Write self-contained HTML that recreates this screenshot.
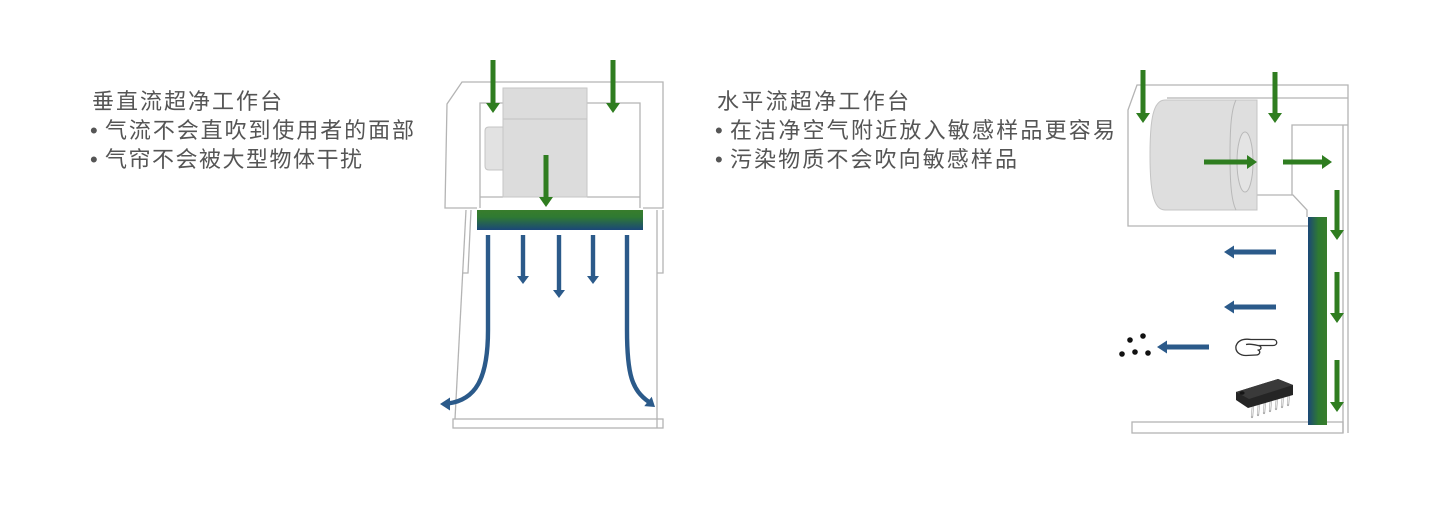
<!DOCTYPE html>
<html>
<head>
<meta charset="utf-8">
<style>
  html,body{margin:0;padding:0;background:#ffffff;}
  body{width:1440px;height:510px;overflow:hidden;}
  svg{display:block;}
  .t{font-family:"Liberation Sans","Noto Sans CJK SC",sans-serif;font-size:22px;fill:#555555;}
</style>
</head>
<body>
<svg width="1440" height="510" viewBox="0 0 1440 510" xmlns="http://www.w3.org/2000/svg">
  <defs>
    <linearGradient id="gv" x1="0" y1="0" x2="0" y2="1">
      <stop offset="0" stop-color="#387d2c"/>
      <stop offset="0.35" stop-color="#2f7a32"/>
      <stop offset="1" stop-color="#1b4778"/>
    </linearGradient>
    <linearGradient id="gh" x1="0" y1="0" x2="1" y2="0">
      <stop offset="0" stop-color="#1b4778"/>
      <stop offset="0.55" stop-color="#2f7a32"/>
      <stop offset="1" stop-color="#387d2c"/>
    </linearGradient>
  </defs>

  <!-- Left text -->
  <text class="t" x="92" y="109" textLength="190" lengthAdjust="spacing">垂直流超净工作台</text>
  <text class="t" x="90" y="138">•</text>
  <text class="t" x="105" y="138" textLength="309" lengthAdjust="spacing">气流不会直吹到使用者的面部</text>
  <text class="t" x="90" y="167">•</text>
  <text class="t" x="105" y="167" textLength="257" lengthAdjust="spacing">气帘不会被大型物体干扰</text>

  <!-- Right text -->
  <text class="t" x="717" y="109" textLength="192" lengthAdjust="spacing">水平流超净工作台</text>
  <text class="t" x="715" y="138">•</text>
  <text class="t" x="730" y="138" textLength="385" lengthAdjust="spacing">在洁净空气附近放入敏感样品更容易</text>
  <text class="t" x="715" y="167">•</text>
  <text class="t" x="730" y="167" textLength="287" lengthAdjust="spacing">污染物质不会吹向敏感样品</text>

  <!-- ===== LEFT DIAGRAM ===== -->
  <g fill="none" stroke="#b4b4b4" stroke-width="1.3">
    <path d="M477,208 L445,208 L447,104 L462,82 L663,82 L663,208 L643,208"/>
    <path d="M503,103 L480,103 L480,208"/>
    <path d="M587,103 L640,103 L640,208"/>
    <path d="M480,197 L503,197"/>
    <path d="M587,197 L640,197"/>
    <path d="M466,210 L455,419"/>
    <path d="M471,210 L468,273 L463,273"/>
    <path d="M657,210 L657,419"/>
    <path d="M663,210 L663,273 L657,273"/>
    <rect x="453" y="419" width="210" height="9"/>
    <path d="M657,419 L657,428"/>
  </g>
  <path d="M503,127 L489,127 Q485,127 485,131 L485,166 Q485,170 489,170 L503,170 Z" fill="#e2e2e2" stroke="#c4c4c4" stroke-width="1"/>
  <rect x="503" y="88" width="84" height="109" fill="#dcdcdc" stroke="#c6c6c6" stroke-width="1"/>
  <line x1="503" y1="119" x2="587" y2="119" stroke="#c2c2c2" stroke-width="1"/>
  <rect x="477" y="210" width="166" height="20" fill="url(#gv)"/>
  <g fill="#2f7d20">
    <polygon points="490.5,60 495.5,60 495.5,103 500,103 493,113 486,103 490.5,103"/>
    <polygon points="610.5,60 615.5,60 615.5,103 620,103 613,113 606,103 610.5,103"/>
    <polygon points="543.5,155 548.5,155 548.5,197 553,197 546,207 539,197 543.5,197"/>
  </g>
  <g fill="#2b5a8a">
    <polygon points="520.8,235 525.2,235 525.2,276 529,276 523,284 517,276 520.8,276"/>
    <polygon points="556.8,235 561.2,235 561.2,290 565,290 559,298 553,290 556.8,290"/>
    <polygon points="590.8,235 595.2,235 595.2,276 599,276 593,284 587,276 590.8,276"/>
    <polygon points="440,404 450,397.5 450,410.5"/>
    <polygon points="655,407 644.3,406.1 651.7,396.7"/>
  </g>
  <g fill="none" stroke="#2b5a8a" stroke-width="4.4">
    <path d="M488,235 L488,330 C488,380 475,400 448,403.5"/>
    <path d="M627,235 L627,330 C627,375 632,390 649,402"/>
  </g>

  <!-- ===== RIGHT DIAGRAM ===== -->
  <g fill="none" stroke="#b4b4b4" stroke-width="1.3">
    <path d="M1308,226 L1128,226 L1128,110 L1137,85 L1348,85 L1348,433"/>
    <path d="M1167,98 L1348,98"/>
    <path d="M1257,195 L1293,195 L1307,210 L1307,217"/>
    <path d="M1292,195 L1292,125 L1348,125"/>
    <path d="M1343,125 L1343,433"/>
    <rect x="1132" y="422" width="211" height="11"/>
  </g>
  <!-- cylinder -->
  <path d="M1165,100 L1257,100 L1257,210 L1165,210 C1153,210 1150,190 1150,155 C1150,120 1153,100 1165,100 Z" fill="#dedede" stroke="#c4c4c4" stroke-width="1"/>
  <path d="M1236,100 C1231,110 1230,130 1230,155 C1230,180 1231,200 1236,210" fill="none" stroke="#b8b8b8" stroke-width="1"/>
  <ellipse cx="1245" cy="162" rx="8" ry="30" fill="#e4e4e4" stroke="#b8b8b8" stroke-width="1"/>
  <rect x="1308" y="217" width="19" height="208" fill="url(#gh)"/>
  <g fill="#2f7d20">
    <polygon points="1140.5,70 1145.5,70 1145.5,113 1150,113 1143,123 1136,113 1140.5,113"/>
    <polygon points="1272.5,72 1277.5,72 1277.5,113 1282,113 1275,123 1268,113 1272.5,113"/>
    <polygon points="1204,159.5 1247,159.5 1247,155 1257,162 1247,169 1247,164.5 1204,164.5"/>
    <polygon points="1283,159.5 1322,159.5 1322,155 1332,162 1322,169 1322,164.5 1283,164.5"/>
    <polygon points="1334.5,190 1339.5,190 1339.5,230 1344,230 1337,240 1330,230 1334.5,230"/>
    <polygon points="1334.5,272 1339.5,272 1339.5,313 1344,313 1337,323 1330,313 1334.5,313"/>
    <polygon points="1334.5,360 1339.5,360 1339.5,402 1344,402 1337,412 1330,402 1334.5,402"/>
  </g>
  <g fill="#2b5a8a">
    <polygon points="1276,249.5 1234,249.5 1234,245.5 1224,252 1234,258.5 1234,254.5 1276,254.5"/>
    <polygon points="1276,304.5 1234,304.5 1234,300.5 1224,307 1234,313.5 1234,309.5 1276,309.5"/>
    <polygon points="1209,344.5 1167,344.5 1167,340.5 1157,347 1167,353.5 1167,349.5 1209,349.5"/>
  </g>
  <g fill="#111">
    <circle cx="1130" cy="340" r="2.8"/>
    <circle cx="1143" cy="336" r="2.8"/>
    <circle cx="1122" cy="354" r="2.8"/>
    <circle cx="1135" cy="352" r="2.8"/>
    <circle cx="1148" cy="353" r="2.8"/>
  </g>
  <!-- hand -->
  <g fill="#fff" stroke="#333" stroke-width="1.3" stroke-linejoin="round">
    <path d="M1236,346 C1238,340 1244,338.5 1251,339.5 L1273,339.5 C1278,339.5 1278,345.5 1273,345.5 L1258,345.5 C1262,346 1262,350 1258,350 C1261,351 1260,355 1256,355 L1246,355.5 C1240,355.5 1235,352 1236,346 Z"/>
    <path d="M1246,344.5 C1250,343.5 1254,344.5 1258,345.5" fill="none"/>
  </g>
  <!-- chip -->
  <g>
    <g stroke="#a8a8a8" stroke-width="2.2" stroke-linecap="round">
      <line x1="1253" y1="405" x2="1252" y2="417"/>
      <line x1="1259" y1="403" x2="1258" y2="415"/>
      <line x1="1265" y1="401" x2="1264" y2="413"/>
      <line x1="1271" y1="399" x2="1270" y2="411"/>
      <line x1="1277" y1="397" x2="1276" y2="409"/>
      <line x1="1283" y1="395" x2="1282" y2="407"/>
      <line x1="1289" y1="393" x2="1288" y2="405"/>
    </g>
    <g stroke="#eeeeee" stroke-width="1" stroke-linecap="round">
      <line x1="1253" y1="406" x2="1252" y2="416"/>
      <line x1="1259" y1="404" x2="1258" y2="414"/>
      <line x1="1265" y1="402" x2="1264" y2="412"/>
      <line x1="1271" y1="400" x2="1270" y2="410"/>
      <line x1="1277" y1="398" x2="1276" y2="408"/>
      <line x1="1283" y1="396" x2="1282" y2="406"/>
      <line x1="1289" y1="394" x2="1288" y2="404"/>
    </g>
    <polygon points="1236,392 1278,379 1293,385 1293,395 1248,408 1236,400" fill="#252525"/>
    <polygon points="1236,392 1278,379 1293,385 1249,399" fill="#3a3a3a"/>
    <ellipse cx="1242" cy="393" rx="2.6" ry="1.7" fill="#151515"/>
  </g>
</svg>
</body>
</html>
